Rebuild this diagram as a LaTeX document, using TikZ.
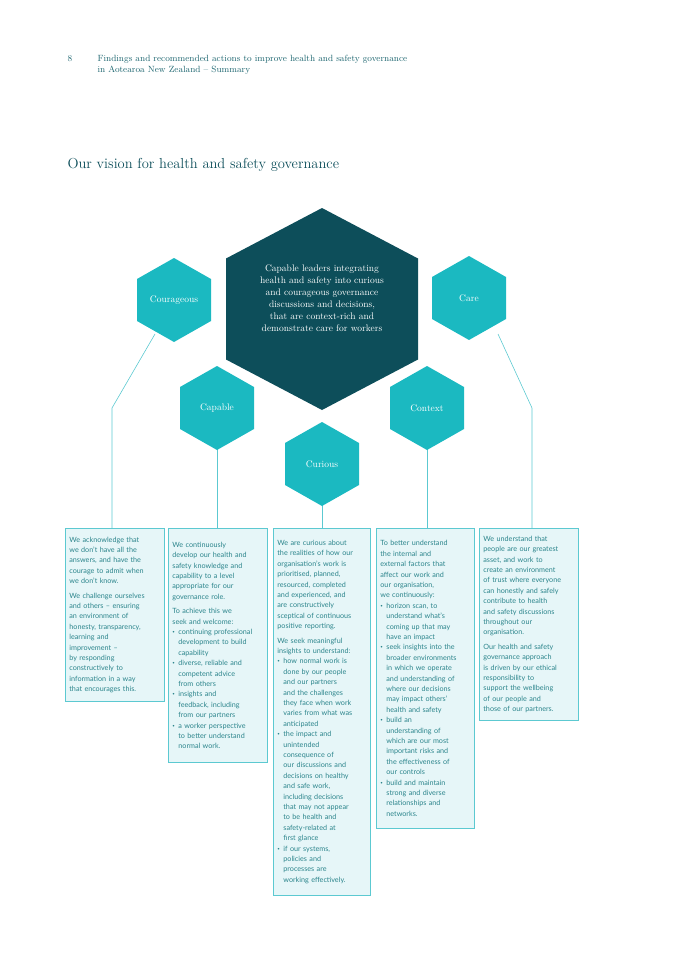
\documentclass[tikz,border=0pt]{standalone}
\usepackage{fontspec}
\setsansfont{Lato}
\usepackage{tikz}
\definecolor{hexteal}{HTML}{1BB9C1}
\definecolor{hexdark}{HTML}{0D4E5A}
\definecolor{boxfill}{HTML}{E6F6F8}
\definecolor{boxline}{HTML}{5CC9D1}
\definecolor{boxtext}{HTML}{2C858C}
\definecolor{titletext}{HTML}{1E6670}
\newcommand{\bul}{\makebox[6pt][l]{\raisebox{1pt}{\scalebox{0.6}{\textbullet}}}}
\newcommand{\ind}{\hspace*{6pt}}
\newcommand{\hexagon}[5]{% center x, center y, half width, half height, colour
  \fill[#5] (#1,#2-#4) -- (#1+#3,#2-#4/2) -- (#1+#3,#2+#4/2)
    -- (#1,#2+#4) -- (#1-#3,#2+#4/2) -- (#1-#3,#2-#4/2) -- cycle;}
\begin{document}
\begin{tikzpicture}[x=1pt,y=-1pt,
  hexlabel/.style={text=white, font=\fontsize{9.5}{12}\selectfont},
  valuebox/.style={draw=boxline, line width=0.8pt, fill=boxfill, anchor=north west,
    text=boxtext, inner sep=4pt, align=left, font=\sffamily\fontsize{7.2}{10.4}\selectfont},
  link/.style={draw=boxline, line width=0.6pt}]
\useasboundingbox (0,0) rectangle (675,955);

% header
\node[anchor=base west, text=titletext, font=\fontsize{9}{11}\selectfont] (pagenum) at (64,62) {8};
\node[anchor=north west, text=titletext, align=left, font=\fontsize{9}{11}\selectfont] (header) at (94,52)
  {Findings and recommended actions to improve health and safety governance\\in Aotearoa New Zealand -- Summary};
\node[anchor=base west, text=hexdark, font=\fontsize{14.5}{17}\selectfont] (title) at (64,168)
  {Our vision for health and safety governance};

% connectors
\coordinate (cgknee) at (112,408);
\coordinate (caknee) at (532,408);
\draw[link] (155,334) -- (cgknee) -- (112,530);
\draw[link] (217,440) -- (217,530);
\draw[link] (322,500) -- (322,530);
\draw[link] (427,440) -- (427,530);
\draw[link] (498,334) -- (caknee) -- (532,530);

% hexagons
\hexagon{322}{309}{96}{101}{hexdark}
\hexagon{174}{300}{37}{42}{hexteal}
\hexagon{217}{408}{37}{42}{hexteal}
\hexagon{322}{464}{37}{42}{hexteal}
\hexagon{427}{408}{37}{42}{hexteal}
\hexagon{469}{298}{37}{42}{hexteal}
\node[hexlabel, align=center] (vision) at (322,298)
  {Capable leaders integrating\\health and safety into curious\\and courageous governance\\discussions and decisions,\\that are context-rich and\\demonstrate care for workers};
\node[hexlabel] (courageous) at (174,300) {Courageous};
\node[hexlabel] (capable) at (217,408) {Capable};
\node[hexlabel] (curious) at (322,464) {Curious};
\node[hexlabel] (context) at (427,408) {Context};
\node[hexlabel] (care) at (469,298) {Care};

% value boxes
\node[valuebox, text width=91pt, minimum height=173pt] (courbox) at (65,528)
  {We acknowledge that\\we don't have all the\\answers, and have the\\courage to admit when\\we don't know.\\[4pt]
   We challenge ourselves\\and others -- ensuring\\an environment of\\honesty, transparency,\\learning and\\improvement --\\by responding\\constructively to\\information in a way\\that encourages this.};
\node[valuebox, text width=91pt, minimum height=234pt] (capbox) at (168,528)
  {We continuously\\develop our health and\\safety knowledge and\\capability to a level\\appropriate for our\\governance role.\\[4pt]
   To achieve this we\\seek and welcome:\\
   \bul continuing professional\\\ind development to build\\\ind capability\\
   \bul diverse, reliable and\\\ind competent advice\\\ind from others\\
   \bul insights and\\\ind feedback, including\\\ind from our partners\\
   \bul a worker perspective\\\ind to better understand\\\ind normal work.};
\node[valuebox, text width=89pt, minimum height=367pt] (curbox) at (273,528)
  {We are curious about\\the realities of how our\\organisation's work is\\prioritised, planned,\\resourced, completed\\and experienced, and\\are constructively\\sceptical of continuous\\positive reporting.\\[4pt]
   We seek meaningful\\insights to understand:\\
   \bul how normal work is\\\ind done by our people\\\ind and our partners\\\ind and the challenges\\\ind they face when work\\\ind varies from what was\\\ind anticipated\\
   \bul the impact and\\\ind unintended\\\ind consequence of\\\ind our discussions and\\\ind decisions on healthy\\\ind and safe work,\\\ind including decisions\\\ind that may not appear\\\ind to be health and\\\ind safety-related at\\\ind first glance\\
   \bul if our systems,\\\ind policies and\\\ind processes are\\\ind working effectively.};
\node[valuebox, text width=90pt, minimum height=300pt] (conbox) at (376,528)
  {To better understand\\the internal and\\external factors that\\affect our work and\\our organisation,\\we continuously:\\
   \bul horizon scan, to\\\ind understand what's\\\ind coming up that may\\\ind have an impact\\
   \bul seek insights into the\\\ind broader environments\\\ind in which we operate\\\ind and understanding of\\\ind where our decisions\\\ind may impact others'\\\ind health and safety\\
   \bul build an\\\ind understanding of\\\ind which are our most\\\ind important risks and\\\ind the effectiveness of\\\ind our controls\\
   \bul build and maintain\\\ind strong and diverse\\\ind relationships and\\\ind networks.};
\node[valuebox, text width=91pt, minimum height=192pt] (carebox) at (479,528)
  {We understand that\\people are our greatest\\asset, and work to\\create an environment\\of trust where everyone\\can honestly and safely\\contribute to health\\and safety discussions\\throughout our\\organisation.\\[4pt]
   Our health and safety\\governance approach\\is driven by our ethical\\responsibility to\\support the wellbeing\\of our people and\\those of our partners.};
\end{tikzpicture}
\end{document}
